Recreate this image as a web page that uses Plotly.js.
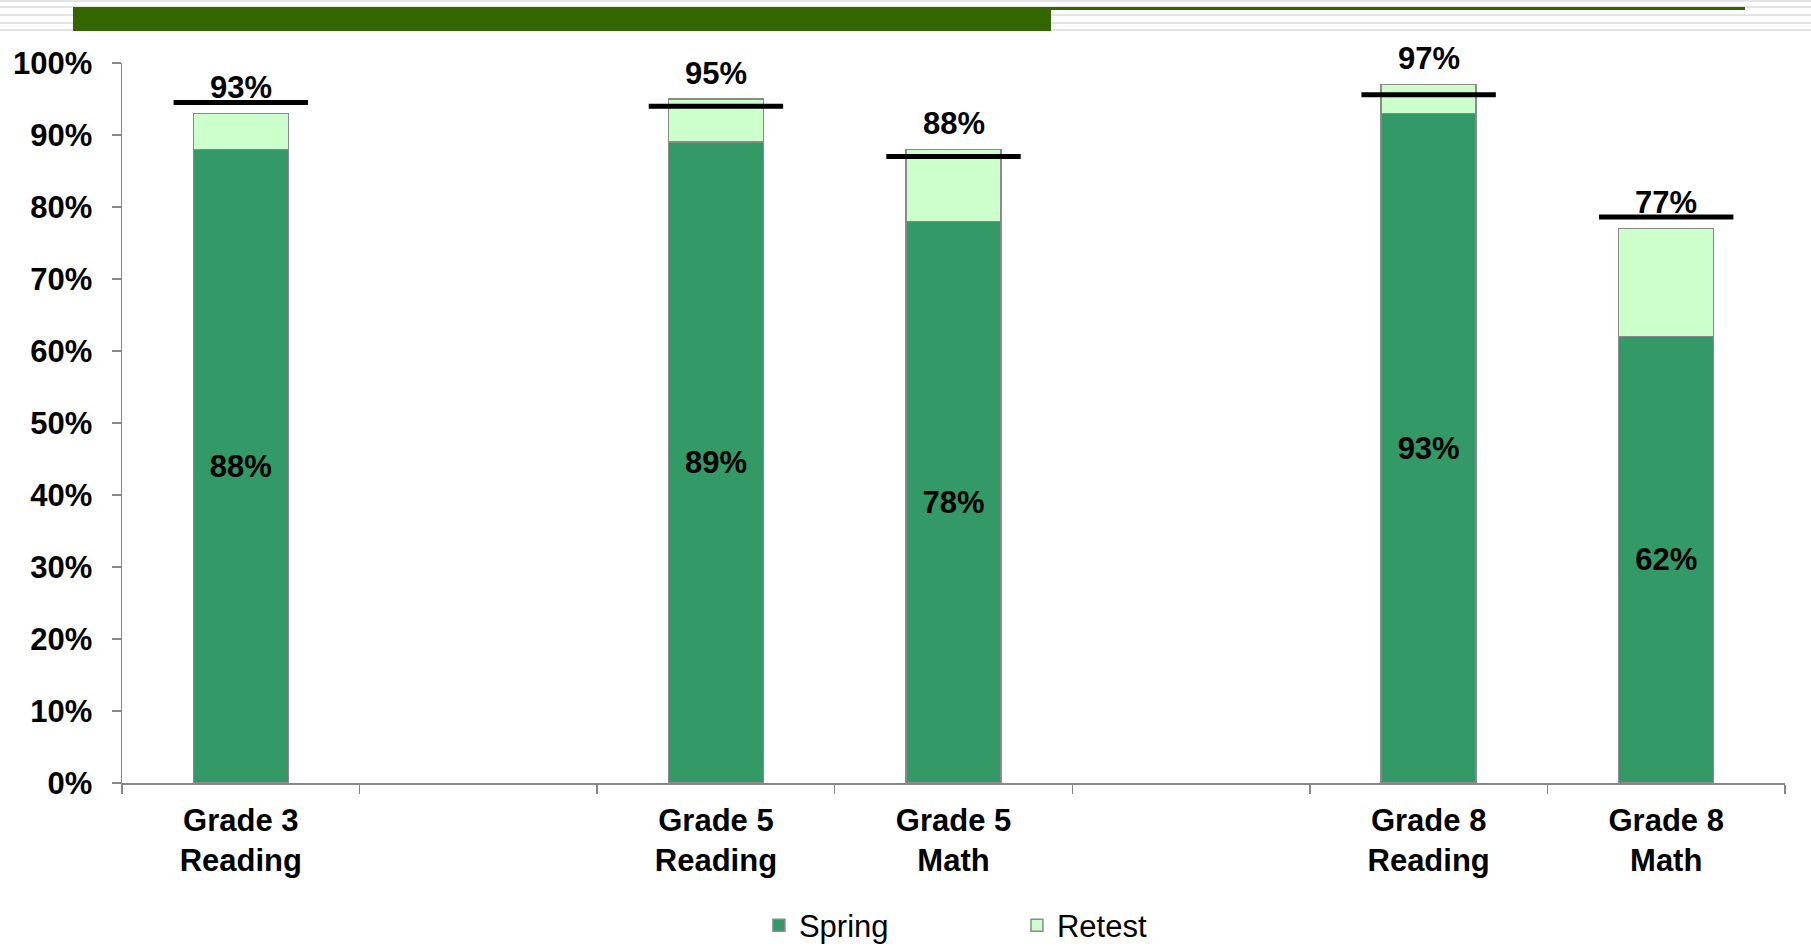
<!DOCTYPE html>
<html>
<head>
<meta charset="utf-8">
<script src="https://cdn.plot.ly/plotly-3.0.1.min.js"></script>
<style>
  html, body { margin: 0; padding: 0; background: #ffffff; }
  #wrap { position: relative; width: 1811px; height: 947px; overflow: hidden; }
  #chart { position: absolute; left: 0; top: 0; width: 1811px; height: 947px; }
  .stripe { position: absolute; left: 0; width: 1811px; height: 2px; background: #e3e3e3; z-index: 2; }
  .hdr { position: absolute; background: #336600; z-index: 3; }
</style>
</head>
<body>
<div id="wrap">
  <div id="chart"></div>
  <div class="stripe" style="top:0px"></div>
  <div class="stripe" style="top:6px"></div>
  <div class="stripe" style="top:14px"></div>
  <div class="stripe" style="top:22px"></div>
  <div class="stripe" style="top:29px"></div>
  <div class="hdr" style="left:73px; top:7px; width:978px; height:24px;"></div>
  <div class="hdr" style="left:1051px; top:7px; width:694px; height:3px;"></div>
</div>
<script>
// ---- data ----
const categories = ["Grade 3<br>Reading", " ", "Grade 5<br>Reading", "Grade 5<br>Math", "  ", "Grade 8<br>Reading", "Grade 8<br>Math"];
const springValues = [88, null, 89, 78, null, 93, 62];
const retestValues = [5, null, 6, 10, null, 4, 15];
const totalValues  = [93, null, 95, 88, null, 97, 77];
const targetValues = [94.5, null, 94, 87, null, 95.6, 78.6];
const yTickVals = [0, 10, 20, 30, 40, 50, 60, 70, 80, 90, 100];
const yTickText = ["0%", "10%", "20%", "30%", "40%", "50%", "60%", "70%", "80%", "90%", "100%"];

const FONT = "'Liberation Sans', Arial, sans-serif";
const pct = v => (v === null ? "" : v + "%");

const traces = [
  {
    type: "bar", name: "Spring", x: categories, y: springValues,
    width: 0.4,
    marker: { color: "#339966", line: { color: "#8a8a8a", width: 1.5 } },
    text: springValues.map(pct), textposition: "inside", insidetextanchor: "middle",
    textfont: { family: FONT, size: 31, color: "#000000", weight: "bold" },
    hoverinfo: "skip"
  },
  {
    type: "bar", name: "Retest", x: categories, y: retestValues,
    width: 0.4,
    marker: { color: "#CCFFCC", line: { color: "#8a8a8a", width: 1.5 } },
    hoverinfo: "skip"
  },
  {
    type: "scatter", mode: "markers", x: categories, y: targetValues,
    showlegend: false, cliponaxis: false,
    marker: { symbol: "line-ew", size: 96, color: "#000000", line: { color: "#000000", width: 5 } },
    hoverinfo: "skip"
  }
];

const annotations = categories.map((c, i) => totalValues[i] === null ? null : ({
  x: c, y: totalValues[i], xref: "x", yref: "y",
  text: pct(totalValues[i]), showarrow: false,
  yanchor: "middle", yshift: 26,
  font: { family: FONT, size: 31, color: "#000000", weight: "bold" }
})).filter(a => a !== null);

const layout = {
  width: 1811, height: 947,
  margin: { l: 122, r: 26, t: 63, b: 164, autoexpand: false },
  paper_bgcolor: "rgba(0,0,0,0)", plot_bgcolor: "rgba(0,0,0,0)",
  barmode: "stack",
  font: { family: FONT, size: 31, color: "#000000" },
  xaxis: {
    type: "category", categoryorder: "array", categoryarray: categories,
    range: [-0.5, 6.5], tickson: "boundaries",
    ticks: "outside", ticklen: 9, tickwidth: 1.5, tickcolor: "#868686",
    showline: true, linecolor: "#868686", linewidth: 1.5,
    showgrid: false, zeroline: false, ticklabelstandoff: 9,
    tickfont: { family: FONT, size: 31, color: "#000000", weight: "bold" },
    fixedrange: true
  },
  yaxis: {
    range: [0, 100], tickvals: yTickVals, ticktext: yTickText,
    ticks: "outside", ticklen: 9, tickwidth: 1.5, tickcolor: "#868686",
    showline: true, linecolor: "#868686", linewidth: 1.5,
    showgrid: false, zeroline: false, ticklabelstandoff: 13,
    tickfont: { family: FONT, size: 31, color: "#000000", weight: "bold" },
    fixedrange: true
  },
  showlegend: true,
  legend: {
    orientation: "h", traceorder: "normal",
    x: 0.383, xanchor: "left", y: -0.198, yanchor: "middle",
    entrywidth: 213, entrywidthmode: "pixels",
    font: { family: FONT, size: 31, color: "#000000" },
    bgcolor: "rgba(0,0,0,0)"
  },
  annotations: annotations
};

Plotly.newPlot("chart", traces, layout, { displayModeBar: false, staticPlot: true });
</script>
</body>
</html>
